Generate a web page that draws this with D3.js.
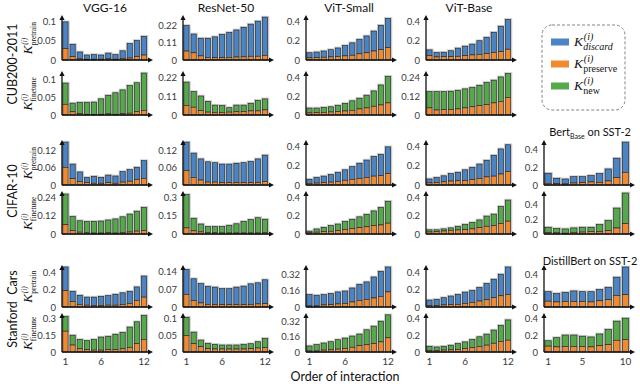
<!DOCTYPE html>
<html>
<head>
<meta charset="utf-8">
<script src="https://cdnjs.cloudflare.com/ajax/libs/d3/7.8.5/d3.min.js"></script>
<style>
  body { margin: 0; background: #fff; }
  svg { display: block; }
</style>
</head>
<body>
<svg id="chart" width="640" height="384" font-family="Lato, 'Open Sans', sans-serif"></svg>
<script>
// ---- data ----
const visionModels = ["VGG-16", "ResNet-50", "ViT-Small", "ViT-Base"];
const datasets = ["CUB200-2011", "CIFAR-10", "Stanford\u00a0 Cars"];
const orders12 = [1, 2, 3, 4, 5, 6, 7, 8, 9, 10, 11, 12];
const orders10 = [1, 2, 3, 4, 5, 6, 7, 8, 9, 10];
const xLabels12 = [1, 6, 12];
const xLabels10 = [1, 5, 10];

// CUB200-2011: VGG-16, ResNet-50, ViT-Small, ViT-Base
const cubPreserve = [
  [0.030,0.009,0.004,0.002,0.002,0.002,0.003,0.002,0.004,0.005,0.009,0.013],
  [0.057,0.046,0.026,0.017,0.015,0.015,0.017,0.019,0.020,0.024,0.024,0.030],
  [0.022,0.025,0.029,0.032,0.036,0.043,0.050,0.065,0.076,0.094,0.108,0.130],
  [0.046,0.032,0.035,0.035,0.039,0.046,0.053,0.060,0.067,0.078,0.088,0.113]
];
const cubDiscard = [
  [0.070,0.032,0.017,0.011,0.012,0.011,0.015,0.012,0.020,0.038,0.042,0.049],
  [0.163,0.120,0.113,0.122,0.133,0.148,0.159,0.173,0.189,0.205,0.224,0.244],
  [0.054,0.058,0.065,0.076,0.090,0.108,0.130,0.151,0.176,0.209,0.256,0.306],
  [0.060,0.046,0.046,0.062,0.085,0.099,0.113,0.142,0.170,0.212,0.266,0.312]
];
const cubNew = [
  [0.059,0.024,0.031,0.033,0.034,0.043,0.052,0.060,0.066,0.077,0.081,0.104],
  [0.137,0.092,0.086,0.063,0.043,0.041,0.026,0.039,0.038,0.045,0.062,0.065],
  [0.052,0.049,0.052,0.056,0.067,0.081,0.102,0.115,0.136,0.164,0.214,0.284],
  [0.104,0.118,0.115,0.118,0.120,0.122,0.124,0.131,0.142,0.146,0.157,0.154]
];
const cubPretrainTicks = [[0,0.05,0.1],[0,0.11,0.22],[0,0.2,0.4],[0,0.2,0.4]];
const cubFinetuneTicks = [[0,0.05,0.1],[0,0.11,0.22],[0,0.2,0.4],[0,0.12,0.24]];

// CIFAR-10: VGG-16, ResNet-50, ViT-Small, ViT-Base, Bert-Base
const cifarPreserve = [
  [0.061,0.022,0.012,0.008,0.006,0.006,0.008,0.006,0.010,0.013,0.019,0.023],
  [0.050,0.026,0.017,0.010,0.010,0.008,0.008,0.008,0.008,0.008,0.008,0.012],
  [0.017,0.020,0.026,0.030,0.036,0.050,0.060,0.069,0.079,0.093,0.099,0.119],
  [0.022,0.026,0.033,0.041,0.044,0.048,0.056,0.070,0.085,0.093,0.115,0.141],
  [0.019,0.015,0.011,0.022,0.026,0.034,0.030,0.045,0.082,0.142]
];
const cifarDiscard = [
  [0.087,0.050,0.033,0.018,0.024,0.020,0.026,0.025,0.036,0.040,0.042,0.061],
  [0.098,0.084,0.073,0.070,0.067,0.064,0.064,0.067,0.069,0.073,0.082,0.091],
  [0.043,0.059,0.067,0.079,0.096,0.109,0.132,0.159,0.182,0.205,0.222,0.281],
  [0.041,0.052,0.063,0.078,0.089,0.111,0.129,0.149,0.174,0.218,0.263,0.281],
  [0.112,0.060,0.056,0.071,0.067,0.071,0.097,0.134,0.217,0.337]
];
const cifarNew = [
  [0.202,0.093,0.075,0.074,0.077,0.079,0.084,0.093,0.103,0.118,0.131,0.152],
  [0.274,0.103,0.065,0.051,0.051,0.053,0.063,0.076,0.095,0.110,0.126,0.109],
  [0.014,0.035,0.046,0.062,0.073,0.087,0.101,0.119,0.136,0.160,0.192,0.240],
  [0.024,0.020,0.023,0.026,0.040,0.057,0.070,0.084,0.111,0.125,0.187,0.231],
  [0.073,0.059,0.058,0.061,0.066,0.058,0.099,0.139,0.272,0.418]
];
const cifarPretrainTicks = [[0,0.06,0.12],[0,0.06,0.12],[0,0.2,0.4],[0,0.2,0.4],[0,0.2,0.4]];
const cifarFinetuneTicks = [[0,0.12,0.24],[0,0.15,0.3],[0,0.2,0.4],[0,0.2,0.4],[0,0.2,0.4]];

// Stanford Cars: VGG-16, ResNet-50, ViT-Small, ViT-Base, DistillBert
const carsPreserve = [
  [0.189,0.063,0.029,0.021,0.017,0.017,0.021,0.021,0.029,0.042,0.076,0.114],
  [0.050,0.025,0.016,0.010,0.009,0.009,0.009,0.009,0.009,0.010,0.012,0.013],
  [0.010,0.010,0.020,0.023,0.030,0.036,0.050,0.066,0.076,0.089,0.106,0.149],
  [0.015,0.015,0.023,0.026,0.030,0.042,0.053,0.068,0.083,0.106,0.128,0.143],
  [0.071,0.062,0.067,0.067,0.067,0.062,0.076,0.089,0.142,0.151]
];
const carsDiscard = [
  [0.274,0.118,0.106,0.093,0.097,0.105,0.110,0.126,0.135,0.139,0.156,0.244],
  [0.097,0.086,0.076,0.071,0.069,0.063,0.063,0.069,0.073,0.081,0.083,0.094],
  [0.112,0.106,0.102,0.109,0.119,0.122,0.138,0.158,0.172,0.208,0.247,0.247],
  [0.064,0.072,0.083,0.099,0.113,0.128,0.136,0.155,0.185,0.211,0.246,0.314],
  [0.116,0.102,0.111,0.129,0.120,0.125,0.137,0.151,0.222,0.338]
];
const carsNew = [
  [0.134,0.089,0.084,0.082,0.096,0.118,0.121,0.140,0.148,0.184,0.198,0.218],
  [0.055,0.035,0.020,0.016,0.014,0.012,0.012,0.012,0.014,0.015,0.019,0.028],
  [0.053,0.067,0.074,0.085,0.099,0.110,0.117,0.122,0.157,0.182,0.217,0.241],
  [0.054,0.046,0.046,0.056,0.072,0.080,0.098,0.116,0.133,0.159,0.194,0.245],
  [0.065,0.111,0.138,0.138,0.124,0.120,0.142,0.184,0.231,0.258]
];
const carsPretrainTicks = [[0,0.2,0.4],[0,0.07,0.14],[0,0.16,0.32],[0,0.2,0.4],[0,0.2,0.4]];
const carsFinetuneTicks = [[0,0.15,0.3],[0,0.05,0.1],[0,0.16,0.32],[0,0.2,0.4],[0,0.2,0.4]];

// ---- layout ----
const colX = [62, 183, 306, 426, 544];          // y-axis position of each column
const rowBase = [60, 115, 185, 234, 307, 352];  // baseline of each row
const rowH = [45, 44, 45, 43, 42, 39];          // axis height of each row
const colors = { discard: "#4a84c4", preserve: "#f08a31", new: "#56a94a" };
const serif = "'Liberation Serif', 'DejaVu Serif', serif";

const svg = d3.select("#chart");

function panel(col, row, orders, preserve, upper, upperColor, ticks, xLabels) {
  const x0 = colX[col], base = rowBase[row], h = rowH[row];
  const rows = orders.map((o, i) => ({ o: o, p: preserve[i], u: upper[i] }));
  const ymax = Math.max(d3.max(rows, d => d.p + d.u) * 1.05, ticks[ticks.length - 1] * 1.18);

  const x = d3.scaleBand().domain(orders).range([x0 + 0.5, x0 + 85])
    .paddingInner(0.27).paddingOuter(0.05);
  const y = d3.scaleLinear().domain([0, ymax]).range([base, base - h]);

  const g = svg.append("g");

  // soft grey shadow round each bar
  g.selectAll("rect.halo").data(rows).join("rect")
    .attr("class", "halo")
    .attr("x", d => x(d.o) - 0.3)
    .attr("y", d => y(d.p + d.u) - 0.3)
    .attr("width", x.bandwidth() + 0.9)
    .attr("height", d => base - y(d.p + d.u))
    .attr("fill", "none")
    .attr("stroke", "#c9c9c9")
    .attr("stroke-width", 2);

  g.selectAll("rect.up").data(rows).join("rect")
    .attr("class", "up")
    .attr("x", d => x(d.o))
    .attr("y", d => y(d.p + d.u))
    .attr("width", x.bandwidth())
    .attr("height", d => y(d.p) - y(d.p + d.u))
    .attr("fill", upperColor)
    .attr("stroke", "#1e1e1e")
    .attr("stroke-width", 0.6);

  g.selectAll("rect.pre").data(rows).join("rect")
    .attr("class", "pre")
    .attr("x", d => x(d.o))
    .attr("y", d => y(d.p))
    .attr("width", x.bandwidth())
    .attr("height", d => base - y(d.p))
    .attr("fill", colors.preserve)
    .attr("stroke", "#1e1e1e")
    .attr("stroke-width", 0.6);

  // y tick labels
  g.append("g")
    .attr("transform", `translate(${x0},0)`)
    .call(d3.axisLeft(y).tickValues(ticks).tickSize(0).tickPadding(6).tickFormat(d => String(d)))
    .call(a => a.select(".domain").remove())
    .call(a => a.attr("font-family", null).attr("font-size", null))
    .selectAll("text")
    .attr("font-size", 9.5)
    .attr("fill", "#3a3a3a");

  // x tick labels (bottom row only)
  if (xLabels) {
    g.append("g")
      .attr("transform", `translate(0,${base})`)
      .call(d3.axisBottom(x).tickValues(xLabels).tickSize(0).tickPadding(6))
      .call(a => a.select(".domain").remove())
      .call(a => a.attr("font-family", null).attr("font-size", null))
      .selectAll("text")
      .attr("font-size", 10)
      .attr("fill", "#3a3a3a");
  }

  // axes with arrows
  const top = base - h, end = x0 + 91;
  g.append("path")
    .attr("d", `M${x0},${base}V${top + 3}M${x0},${base}H${end - 3}`)
    .attr("stroke", "#111").attr("stroke-width", 1.3).attr("fill", "none");
  g.append("path")
    .attr("d", `M${x0 - 2.6},${top + 5}L${x0},${top}L${x0 + 2.6},${top + 5}Z` +
               `M${end - 5},${base - 2.6}L${end},${base}L${end - 5},${base + 2.6}Z`)
    .attr("fill", "#111");
}

// K^(i)_sub label as one text element: superscript stacked over subscript
function kLabel(g, sub, kSize, sSize, italicSub) {
  const t = g.append("text").attr("fill", "#111").style("font-family", serif);
  t.append("tspan").style("font-style", "italic").attr("font-size", kSize).text("K");
  const sup = t.append("tspan").style("font-style", "italic").attr("font-size", sSize)
    .attr("dx", 0.8).attr("dy", -kSize * 0.42).text("(i)");
  const supW = sup.node().getComputedTextLength();
  const s = t.append("tspan").style("font-style", italicSub ? "italic" : "normal")
    .attr("font-size", sSize).attr("dx", -supW - 0.6).attr("dy", kSize * 0.72).text(sub);
  return t.node().getBBox().width;
}

// ---- panels ----
const groups = [
  { pre: cubPreserve, dis: cubDiscard, nw: cubNew, pt: cubPretrainTicks, ft: cubFinetuneTicks },
  { pre: cifarPreserve, dis: cifarDiscard, nw: cifarNew, pt: cifarPretrainTicks, ft: cifarFinetuneTicks },
  { pre: carsPreserve, dis: carsDiscard, nw: carsNew, pt: carsPretrainTicks, ft: carsFinetuneTicks }
];

groups.forEach((gr, di) => {
  gr.pre.forEach((p, mi) => {
    const orders = p.length === 10 ? orders10 : orders12;
    const xl = di === 2 ? (p.length === 10 ? xLabels10 : xLabels12) : null;
    panel(mi, di * 2, orders, p, gr.dis[mi], colors.discard, gr.pt[mi], null);
    panel(mi, di * 2 + 1, orders, p, gr.nw[mi], colors.new, gr.ft[mi], xl);
  });
});

// ---- titles ----
visionModels.forEach((m, i) => {
  svg.append("text")
    .attr("x", colX[i] + 43).attr("y", 12)
    .attr("text-anchor", "middle").attr("font-size", 12).attr("fill", "#111")
    .text(m);
});

const bertT = svg.append("text")
  .attr("x", 590).attr("y", 136).attr("text-anchor", "middle")
  .attr("font-size", 11).attr("fill", "#111");
bertT.append("tspan").text("Bert");
bertT.append("tspan").attr("font-size", 7).attr("dy", 3).text("Base");
bertT.append("tspan").attr("dy", -3).text(" on SST-2");

svg.append("text")
  .attr("x", 590).attr("y", 265).attr("text-anchor", "middle")
  .attr("font-size", 11).attr("fill", "#111")
  .text("DistillBert on SST-2");

// dataset labels (rotated)
const dsCenters = [64, 191, 309];
datasets.forEach((d, i) => {
  svg.append("text")
    .attr("transform", `translate(17,${dsCenters[i]}) rotate(-90)`)
    .attr("text-anchor", "middle").attr("font-size", 12.5).attr("fill", "#111")
    .text(d);
});

// y-axis labels K_pretrain / K_finetune
rowBase.forEach((b, r) => {
  const cy = b - rowH[r] / 2;
  const outer = svg.append("g").attr("transform", `translate(32,${cy}) rotate(-90)`);
  const inner = outer.append("g");
  const w = kLabel(inner, r % 2 === 0 ? "pretrain" : "finetune", 13, 7.5, false);
  inner.attr("transform", `translate(${-w / 2},0)`);
});

// x title
svg.append("text")
  .attr("x", 345).attr("y", 381).attr("text-anchor", "middle")
  .attr("font-size", 12.5).attr("fill", "#111")
  .text("Order of interaction");

// ---- legend ----
const legend = svg.append("g");
legend.append("rect")
  .attr("x", 542).attr("y", 25).attr("width", 83).attr("height", 85).attr("rx", 10)
  .attr("fill", "none").attr("stroke", "#777").attr("stroke-width", 0.9)
  .attr("stroke-dasharray", "3,2");
const legendItems = [
  { key: "discard", sub: "discard", italic: true },
  { key: "preserve", sub: "preserve", italic: false },
  { key: "new", sub: "new", italic: false }
];
legendItems.forEach((it, i) => {
  const cy = 42 + i * 22;
  legend.append("rect")
    .attr("x", 551).attr("y", cy - 3.5).attr("width", 18).attr("height", 7)
    .attr("fill", colors[it.key]);
  const lg = legend.append("g").attr("transform", `translate(574,${cy + 4})`);
  kLabel(lg, it.sub, 13.5, 10, it.italic);
});
</script>
</body>
</html>
